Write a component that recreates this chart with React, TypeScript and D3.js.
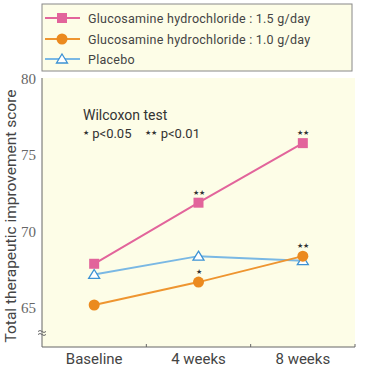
import React from 'react';
import * as d3 from 'd3';

// data
const categories = ['Baseline', '4 weeks', '8 weeks'];
const dose15 = [67.9, 71.9, 75.8];
const dose10 = [65.2, 66.7, 68.4];
const placebo = [67.2, 68.4, 68.1];
const yTicks = [65, 70, 75, 80];
const seriesNames = [
  'Glucosamine hydrochloride : 1.5 g/day',
  'Glucosamine hydrochloride : 1.0 g/day',
  'Placebo',
];
const stars15 = ['', '★★', '★★'];
const stars10 = ['', '★', '★★'];

const App = () => {
  const width = 371,
    height = 373;
  const plot = { left: 42, right: 355, top: 78, bottom: 347 };

  const x = d3.scaleBand().domain(categories).range([plot.left, plot.right]);
  const y = d3.scaleLinear().domain([62.45, 80]).range([plot.bottom, 79]);
  const cx = (i) => x(categories[i]) + x.bandwidth() / 2;

  const line = d3
    .line()
    .x((d, i) => cx(i))
    .y((d) => y(d));

  const pink = '#e2649b',
    orange = '#ee9530',
    orangeDot = '#eb8a1f',
    blue = '#7ab8e4',
    blueMark = '#3d92d4';

  const tri = (px, py) => {
    const s = 5;
    return `M${px},${py - s}L${px + s * 1.1},${py + s * 0.8}L${px - s * 1.1},${py + s * 0.8}Z`;
  };

  const sans = 'Roboto, "Noto Sans", sans-serif';

  return (
    <svg width={width} height={height} style={{ position: 'absolute', left: 0, top: 0 }}>
      <rect x={0} y={0} width={width} height={height} fill="#ffffff" />
      {/* plot background */}
      <rect x={plot.left} y={plot.top} width={plot.right - plot.left} height={plot.bottom - plot.top} fill="#fdfde7" />

      {/* legend */}
      <rect x={42} y={4} width={310} height={67} fill="#fdfde7" stroke="#888" strokeWidth={1} />
      {seriesNames.map((name, i) => {
        const ly = [18, 39, 59][i];
        const col = [pink, orange, blue][i];
        return (
          <g key={name}>
            <line x1={45} x2={80} y1={ly} y2={ly} stroke={col} strokeWidth={2} />
            {i === 0 && <rect x={57} y={ly - 5} width={10} height={10} fill={pink} />}
            {i === 1 && <circle cx={62} cy={ly} r={5.5} fill={orangeDot} />}
            {i === 2 && <path d={tri(62, ly)} fill="#fff" stroke={blueMark} strokeWidth={1.3} />}
            <text x={88} y={ly + 4.5} fontSize={12.5} letterSpacing={0.25} fontFamily={sans} fill="#444">
              {name}
            </text>
          </g>
        );
      })}

      {/* axes */}
      <line x1={plot.left} x2={plot.left} y1={plot.top} y2={plot.bottom} stroke="#666" strokeWidth={1} />
      <line x1={plot.left} x2={plot.right} y1={plot.bottom} y2={plot.bottom} stroke="#666" strokeWidth={1} />
      {categories.map((c) => (
        <line key={c} x1={x(c) + x.bandwidth()} x2={x(c) + x.bandwidth()} y1={plot.bottom} y2={plot.bottom - 3} stroke="#666" />
      ))}
      {/* axis break */}
      <g stroke="#666" strokeWidth={1} fill="none">
        <path d={`M${plot.left - 4},${y(63.4) - 1}q2,-2 4,0t4,0`} />
        <path d={`M${plot.left - 4},${y(63.4) + 2}q2,-2 4,0t4,0`} />
      </g>
      {yTicks.map((t) => (
        <text key={t} x={36} y={y(t) + 5} fontSize={15} fontFamily="Liberation Serif" fill="#666" textAnchor="end">
          {t}
        </text>
      ))}
      {categories.map((c, i) => (
        <text key={c} x={cx(i)} y={364} fontSize={15} fontFamily={sans} fill="#444" textAnchor="middle">
          {c}
        </text>
      ))}
      <text
        transform={`translate(16,${216}) rotate(-90)`}
        fontSize={15.5}
        fontFamily={sans}
        fill="#444"
        textAnchor="middle"
      >
        Total therapeutic improvement score
      </text>

      {/* annotation */}
      <text x={83} y={120} fontSize={14} fontFamily={sans} fill="#333">
        Wilcoxon test
      </text>
      <text x={83} y={138} fontSize={13} fontFamily={sans} fill="#333">
        <tspan fontSize={7} dy={-3}>★</tspan>
        <tspan dy={3}> p&lt;0.05</tspan>
        <tspan fontSize={7} dx={14} dy={-3}>★★</tspan>
        <tspan dy={3}> p&lt;0.01</tspan>
      </text>

      {/* lines */}
      <path d={line(placebo)} fill="none" stroke={blue} strokeWidth={2} />
      <path d={line(dose10)} fill="none" stroke={orange} strokeWidth={2} />
      <path d={line(dose15)} fill="none" stroke={pink} strokeWidth={2} />

      {/* markers */}
      {placebo.map((v, i) => (
        <path key={'p' + i} d={tri(cx(i), y(v))} fill="#fff" stroke={blueMark} strokeWidth={1.3} />
      ))}
      {dose10.map((v, i) => (
        <circle key={'o' + i} cx={cx(i)} cy={y(v)} r={5.5} fill={orangeDot} />
      ))}
      {dose15.map((v, i) => (
        <rect key={'s' + i} x={cx(i) - 5} y={y(v) - 5} width={10} height={10} fill={pink} />
      ))}

      {/* significance stars */}
      {stars15.map((s, i) => (
        <text key={'a' + i} x={cx(i)} y={y(dose15[i]) - 8} fontSize={7} fill="#333" textAnchor="middle">
          {s}
        </text>
      ))}
      {stars10.map((s, i) => (
        <text key={'b' + i} x={cx(i)} y={y(dose10[i]) - 8} fontSize={7} fill="#333" textAnchor="middle">
          {s}
        </text>
      ))}
    </svg>
  );
};

export default App;
